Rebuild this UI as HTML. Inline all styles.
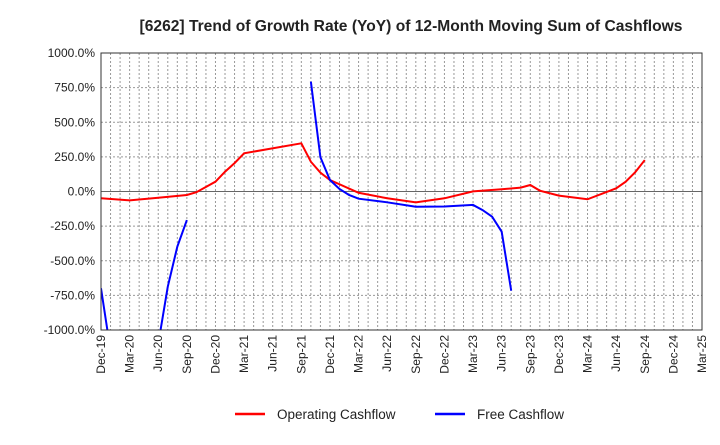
<!DOCTYPE html>
<html><head><meta charset="utf-8"><style>
body{margin:0;background:#fff;font-family:"Liberation Sans",sans-serif}
svg text{font-family:"Liberation Sans",sans-serif}
</style></head><body>
<svg id="c" width="720" height="440" xmlns="http://www.w3.org/2000/svg">
<defs><clipPath id="pc"><rect x="101" y="53" width="601" height="277"/></clipPath></defs>
<text x="411" y="31" text-anchor="middle" font-size="15.6" font-weight="bold" fill="#222">[6262]  Trend of Growth Rate (YoY) of 12-Month Moving Sum of Cashflows</text>
<g id="grid"></g>
<g id="yt"></g>
<g id="xt"></g>
<g id="series" clip-path="url(#pc)"></g>
<rect x="101" y="53" width="601" height="277" fill="none" stroke="#333" stroke-width="1"/>
<g>
<g><line x1="235" y1="414" x2="265" y2="414" stroke="#f00" stroke-width="2.5"/><text x="277" y="419" font-size="13.5" fill="#222">Operating Cashflow</text></g>
<g><line x1="435" y1="414" x2="465" y2="414" stroke="#00f" stroke-width="2.5"/><text x="477" y="419" font-size="13.5" fill="#222">Free Cashflow</text></g>
</g>
</svg>
<script>
const yTicks=[1000,750,500,250,0,-250,-500,-750,-1000];
const xLabels=["Dec-19","Mar-20","Jun-20","Sep-20","Dec-20","Mar-21","Jun-21","Sep-21","Dec-21","Mar-22","Jun-22","Sep-22","Dec-22","Mar-23","Jun-23","Sep-23","Dec-23","Mar-24","Jun-24","Sep-24","Dec-24","Mar-25"];
// month index from Dec-19
const opMonths=[0,3,6,9,10,12,13,14,15,21,22,23,24,27,30,33,36,39,42,44,45,46,48,51,54,55,56,57];
const opValues=[-49,-64,-45,-25,-5,71,143,205,276,348,215,136,83,-9,-49,-78,-49,1,16,28,47,6,-30,-56,23,71,139,227];
const fcfMonths=[[0,1],[6,7,8,9],[22,23,24,25,26,27,30,33,36,39,40,41,42,43]];
const fcfValues=[[-699,-1150],[-1100,-687,-398,-206],[793,247,83,18,-25,-52,-78,-110,-108,-97,-134,-182,-290,-716]];
const L=101,R=702,T=53,B=330,NM=63;
const X=m=>L+(R-L)*m/NM;
const Y=v=>T+(B-T)*(1000-v)/2000;
const NS="http://www.w3.org/2000/svg";
function mk(t,a,p){const e=document.createElementNS(NS,t);for(const k in a)e.setAttribute(k,a[k]);p.appendChild(e);return e;}
const grid=document.getElementById('grid'),yt=document.getElementById('yt'),xt=document.getElementById('xt'),ser=document.getElementById('series');
for(let m=1;m<NM;m++){const g=mk('line',{x1:X(m),x2:X(m),y1:T,y2:B,stroke:'#999','stroke-dasharray':'2,2','stroke-width':1},grid);

}
yTicks.forEach(v=>{
 if(v!==1000&&v!==-1000){const g=mk('line',{x1:L,x2:R,y1:Y(v),y2:Y(v),stroke:v===0?'#666':'#999','stroke-dasharray':v===0?'':'2,2','stroke-width':1},grid);
 
 }
 const t=mk('text',{x:L-6,y:Y(v)+4,'text-anchor':'end','font-size':12,fill:'#222'},yt);t.textContent=v.toFixed(1)+'%';
 
 
});
xLabels.forEach((s,i)=>{const x=X(i*3);
 const t=mk('text',{x:0,y:0,'text-anchor':'end','font-size':12,fill:'#222',transform:`translate(${x+4},${B+5}) rotate(-90)`},xt);t.textContent=s;
 
 
});
const op=mk('polyline',{points:opMonths.map((m,i)=>X(m)+','+Y(opValues[i])).join(' '),fill:'none',stroke:'#f00','stroke-width':2},ser);


fcfMonths.forEach((ms,j)=>{
 const p=mk('polyline',{points:ms.map((m,i)=>X(m)+','+Y(fcfValues[j][i])).join(' '),fill:'none',stroke:'#00f','stroke-width':2},ser);
 
 
});
</script>
</body></html>
